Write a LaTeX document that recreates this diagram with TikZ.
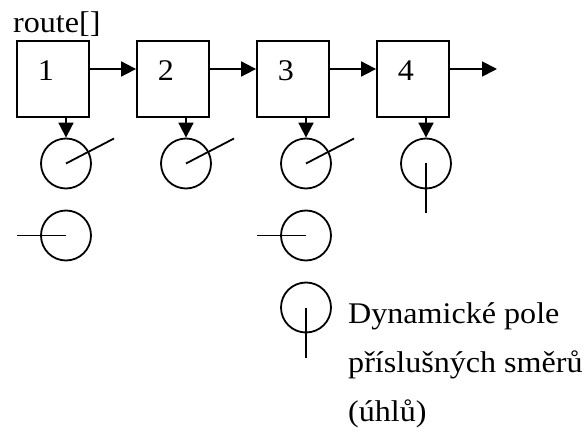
\documentclass[tikz,border=0pt]{standalone}
\usepackage{fontspec}
\setmainfont[FakeStretch=1.07]{Liberation Serif}
\usetikzlibrary{arrows.meta, positioning}
\tikzset{
  cell/.style={draw, line width=1.8pt, minimum width=72pt, minimum height=76pt, inner sep=0pt},
  dirc/.style={draw, circle, line width=1.8pt, minimum size=50pt, inner sep=0pt},
  arr/.style={line width=1.8pt, -{Triangle[length=15pt, width=15pt]}},
  num/.style={anchor=base, inner sep=0pt, font=\fontsize{30}{36}\selectfont},
  txt/.style={anchor=base west, inner sep=0pt, font=\fontsize{30}{36}\selectfont}
}
\begin{document}
\begin{tikzpicture}[x=1pt, y=-1pt]
\useasboundingbox (0,0) rectangle (586,438);
\node[txt] (name) at (13,33) {route[]};
% the array cells
\node[cell] (b1) at (53,79) {};
\node[cell] (b2) at (173,79) {};
\node[cell] (b3) at (293,79) {};
\node[cell] (b4) at (413,79) {};
\node[num] at ([shift={(-7,2)}]b1.center) {1};
\node[num] at ([shift={(-7,2)}]b2.center) {2};
\node[num] at ([shift={(-7,2)}]b3.center) {3};
\node[num] at ([shift={(-7,2)}]b4.center) {4};
\coordinate (end) at (497,69);
\draw[arr] ([yshift=10pt]b1.east) -- ([yshift=10pt]b2.west);
\draw[arr] ([yshift=10pt]b2.east) -- ([yshift=10pt]b3.west);
\draw[arr] ([yshift=10pt]b3.east) -- ([yshift=10pt]b4.west);
\draw[arr] ([yshift=10pt]b4.east) -- (end);
% direction arrays
\node[dirc] (c1) at (66,163.5) {};
\node[dirc] (c2) at (186,163.5) {};
\node[dirc] (c3) at (306,163.5) {};
\node[dirc] (c4) at (426,163.5) {};
\draw[arr] (b1.south -| c1) -- (c1.north);
\draw[arr] (b2.south -| c2) -- (c2.north);
\draw[arr] (b3.south -| c3) -- (c3.north);
\draw[arr] (b4.south -| c4) -- (c4.north);
\draw[line width=1.8pt] (c1.center) -- ++(48,-25);
\draw[line width=1.8pt] (c2.center) -- ++(48,-25);
\draw[line width=1.8pt] (c3.center) -- ++(48,-25);
\draw[line width=1.8pt] (c4.center) -- ++(0,50);
\node[dirc] (d1) at (66,235.5) {};
\node[dirc] (d3) at (306,235.5) {};
\draw[line width=1.8pt] (d1.center) -- ++(-49,0);
\draw[line width=1.8pt] (d3.center) -- ++(-49,0);
% legend
\node[dirc] (leg) at (306,307.5) {};
\draw[line width=1.8pt] (leg.center) -- ++(0,50);
\node[txt] (t1) at (348,323) {Dynamické pole};
\node[txt] (t2) at (348,372) {příslušných směrů};
\node[txt] (t3) at (348,421) {(úhlů)};
\end{tikzpicture}
\end{document}
